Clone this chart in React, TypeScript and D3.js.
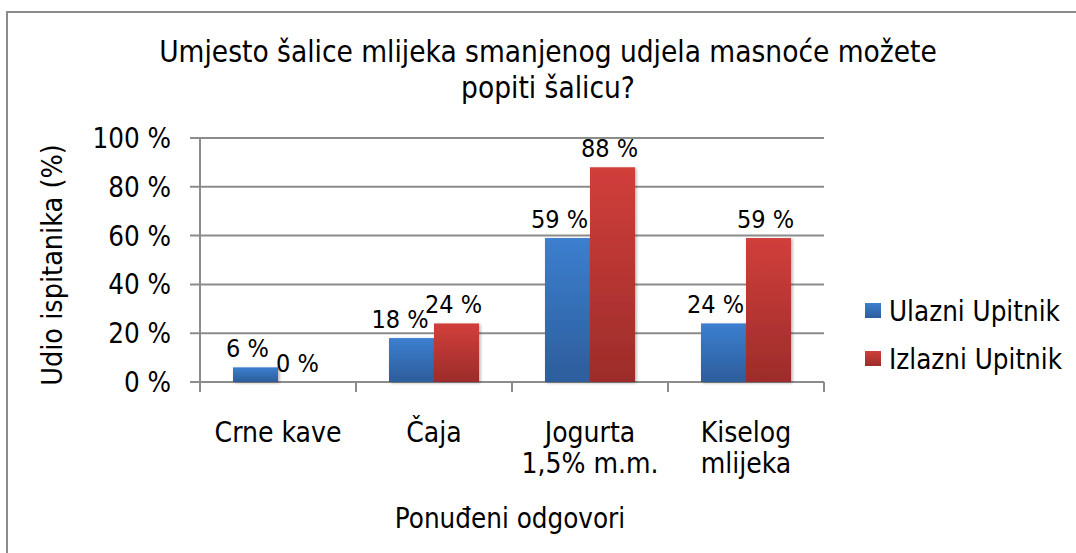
import React from "react";
import * as d3 from "d3";

const titleLines = ["Umjesto šalice mlijeka smanjenog udjela masnoće možete", "popiti šalicu?"];
const categories = [["Crne kave"], ["Čaja"], ["Jogurta", "1,5% m.m."], ["Kiselog", "mlijeka"]];
const seriesNames = ["Ulazni Upitnik", "Izlazni Upitnik"];
const ulazni = [6, 18, 59, 24];
const izlazni = [0, 24, 88, 59];
const yTicks = [0, 20, 40, 60, 80, 100];
const yTitle = "Udio ispitanika (%)";
const xTitle = "Ponuđeni odgovori";

const FONT = "'DejaVu Sans Condensed', 'Liberation Sans Narrow', 'DejaVu Sans', sans-serif";

export default function App() {
  const W = 1076, H = 553;
  const left = 200, right = 824, top = 138, bottom = 382;
  const x = d3.scaleBand<number>().domain(d3.range(categories.length)).range([left, right]);
  const y = d3.scaleLinear().domain([0, 100]).range([bottom, top]);
  const inner = d3.scaleBand<number>().domain([0, 1]).range([0, x.bandwidth()]).paddingOuter(0.733).paddingInner(0);
  const series = [ulazni, izlazni];
  const gradIds = ["gBlue", "gRed"];
  const labelDx = [-8, -3];
  const labelFs = 25;
  const charW = 12.6;

  // label positions with simple collision avoidance (blue label moves left if it collides with red)
  const labels = series.map((vals, s) =>
    vals.map((v, i) => ({
      v,
      cx: (x(i) as number) + (inner(s) as number) + inner.bandwidth() / 2 + labelDx[s],
      cy: y(v) - 19,
      w: `${v} %`.length * charW,
    }))
  );
  labels[0].forEach((b, i) => {
    const r = labels[1][i];
    if (Math.abs(b.cy - r.cy) < 26) {
      const overlap = b.cx + b.w / 2 - (r.cx - r.w / 2) + 3;
      if (overlap > 0) b.cx -= overlap;
    }
  });

  return (
    <svg width={W} height={H} style={{ position: "absolute", left: 0, top: 0, background: "#fff" }} fontFamily={FONT}>
      <defs>
        <linearGradient id="gBlue" x1="0" y1="0" x2="0" y2="1">
          <stop offset="0" stopColor="#3c7fcf" />
          <stop offset="1" stopColor="#2d5d9c" />
        </linearGradient>
        <linearGradient id="gRed" x1="0" y1="0" x2="0" y2="1">
          <stop offset="0" stopColor="#d13f3b" />
          <stop offset="1" stopColor="#9c2c2a" />
        </linearGradient>
        <filter id="sh" x="-20%" y="-20%" width="140%" height="140%">
          <feDropShadow dx="1.5" dy="1" stdDeviation="1.5" floodColor="#000" floodOpacity="0.3" />
        </filter>
      </defs>
      <rect x={7} y={12} width={1200} height={700} fill="#fff" stroke="#8c8c8c" strokeWidth={2} />
      {titleLines.map((t, i) => (
        <text key={i} x={548} y={52 + i * 36} textAnchor="middle" dominantBaseline="central" fontSize={29.5} fill="#000">{t}</text>
      ))}
      {yTicks.map((t) => (
        <g key={t}>
          <line x1={190} x2={right} y1={y(t)} y2={y(t)} stroke="#8c8c8c" strokeWidth={2} />
          <text x={171} y={y(t)} textAnchor="end" dominantBaseline="central" fontSize={27.5} fill="#000">{t} %</text>
        </g>
      ))}
      <line x1={left} x2={left} y1={top} y2={bottom + 10} stroke="#8c8c8c" strokeWidth={2} />
      {d3.range(categories.length + 1).map((i) => {
        const xx = i < categories.length ? (x(i) as number) : right;
        return <line key={i} x1={xx} x2={xx} y1={bottom} y2={bottom + 10} stroke="#8c8c8c" strokeWidth={2} />;
      })}
      {series.map((vals, s) => (
        <g key={s}>
          {vals.map((v, i) => {
            const bx = (x(i) as number) + (inner(s) as number);
            return v > 0 ? (
              <rect key={i} x={bx} y={y(v)} width={inner.bandwidth()} height={bottom - y(v)} fill={`url(#${gradIds[s]})`} filter="url(#sh)" />
            ) : null;
          })}
        </g>
      ))}
      {labels.map((arr, s) => (
        <g key={"l" + s}>
          {arr.map((l, i) => (
            <text key={i} x={l.cx} y={l.cy} textAnchor="middle" dominantBaseline="central" fontSize={labelFs} fill="#000">{l.v} %</text>
          ))}
        </g>
      ))}
      {categories.map((lines, i) => (
        <text key={i} x={(x(i) as number) + x.bandwidth() / 2} textAnchor="middle" fontSize={28} fill="#000">
          {lines.map((l, j) => (
            <tspan key={j} x={(x(i) as number) + x.bandwidth() / 2} y={432 + j * 31} dominantBaseline="central">{l}</tspan>
          ))}
        </text>
      ))}
      <text x={510} y={518} textAnchor="middle" dominantBaseline="central" fontSize={27.5} fill="#000">{xTitle}</text>
      <text transform={`translate(52,265) rotate(-90)`} textAnchor="middle" dominantBaseline="central" fontSize={28.5} fill="#000">{yTitle}</text>
      {seriesNames.map((n, i) => (
        <g key={n}>
          <rect x={865} y={303 + i * 48} width={16} height={15} fill={`url(#${gradIds[i]})`} />
          <text x={889} y={311 + i * 48} dominantBaseline="central" fontSize={27.5} fill="#000">{n}</text>
        </g>
      ))}
    </svg>
  );
}
